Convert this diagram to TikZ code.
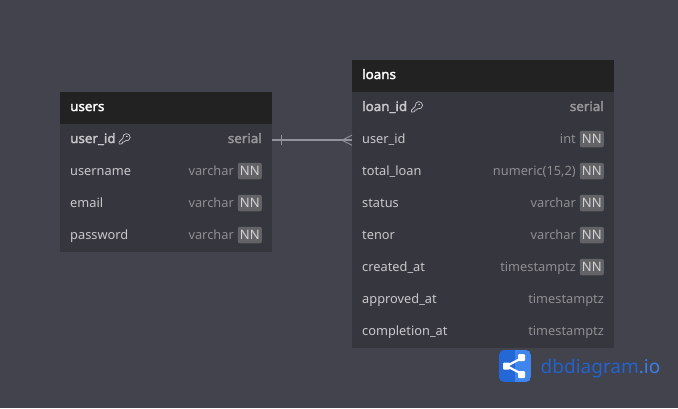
\documentclass[tikz,border=0pt]{standalone}
\usepackage{fontspec}
\setmainfont{Noto Sans}
\newfontfamily\heavyfont{Noto Sans}[FakeBold=2.2,FakeStretch=1.03]
\usetikzlibrary{positioning,calc}
\definecolor{bgc}{HTML}{43434D}
\definecolor{headc}{HTML}{222222}
\definecolor{rowc}{HTML}{36363E}
\definecolor{namec}{HTML}{C8C8CC}
\definecolor{typec}{HTML}{8E8E92}
\definecolor{boldc}{HTML}{C8C8CC}
\definecolor{boldtype}{HTML}{98989C}
\definecolor{nnfill}{HTML}{636367}
\definecolor{nntext}{HTML}{D2D2D4}
\definecolor{linec}{HTML}{92929C}
\definecolor{logod}{HTML}{2467D6}
\definecolor{logol}{HTML}{3F85EE}
\definecolor{txtd}{HTML}{2263CC}
\definecolor{txtl}{HTML}{3A80E4}
\tikzset{
  x=1pt,y=-1pt,
  headbox/.style={fill=headc,inner sep=0pt,anchor=north west,minimum height=32pt},
  rowbox/.style={fill=rowc,inner sep=0pt,anchor=north west,minimum height=32pt},
  fname/.style={anchor=base west,inner sep=0pt,text=namec,font=\fontsize{12.8}{15}\selectfont},
  fnamepk/.style={anchor=base west,inner sep=0pt,text=boldc,font=\fontsize{13}{15}\selectfont\heavyfont},
  ftitle/.style={anchor=base west,inner sep=0pt,text=white,font=\fontsize{13}{15}\selectfont\heavyfont},
  ftype/.style={anchor=base east,inner sep=0pt,text=typec,font=\fontsize{12.8}{15}\selectfont},
  ftypepk/.style={anchor=base east,inner sep=0pt,text=boldtype,font=\fontsize{13}{15}\selectfont\heavyfont},
  nnbox/.style={fill=nnfill,rounded corners=2pt,text=nntext,inner sep=0pt,minimum width=24pt,minimum height=16.5pt,anchor=east,font=\fontsize{13}{15}\selectfont},
  rel/.style={draw=linec,line width=1.5pt},
  relthin/.style={draw=linec,line width=0.9pt},
  keyicon/.style={draw=boldc,line width=0.7pt,line cap=round,line join=round},
}
\newcommand{\keyglyph}[1]{%
  \begin{scope}[shift={(#1)}]
    \draw[keyicon] (-5.5,5) -- (-5.5,3) -- (-1.8,-0.7) .. controls (-2.2,-3.6) and (0,-5.4) .. (1.8,-5.4) .. controls (4,-5.4) and (5.6,-3.6) .. (5.6,-1.6) .. controls (5.6,0.8) and (3,2.4) .. (0.6,1.8) -- (-0.6,3) -- (-2,3) -- (-2.4,4.4) -- (-3.6,5) -- cycle;
    \draw[keyicon] (1.6,-2.6) -- (2.8,-2.6);
  \end{scope}}
\newcommand{\tablerow}[7]{% prefix, column name, left, top, width, type, nn(1/0)
  \node[rowbox,minimum width=#5pt] (#1-box) at (#3,#4) {};
  \node[fname] (#1-name) at ($(#3,#4)+(10,19.6)$) {#2};
  \ifnum#7=1
    \node[nnbox] (#1-nn) at ($(#3,#4)+(#5,0)+(-10,15)$) {NN};
    \node[ftype] (#1-type) at ($(#3,#4)+(#5,0)+(-38,19.6)$) {#6};
  \else
    \node[ftype] (#1-type) at ($(#3,#4)+(#5,0)+(-10,19.6)$) {#6};
  \fi}
\begin{document}
\begin{tikzpicture}
\useasboundingbox (0,0) rectangle (678,408);
\fill[bgc] (0,0) rectangle (678,408);

% users
\node[headbox,minimum width=212pt] (usershead) at (60,92) {};
\node[ftitle] (userstitle) at (70,111) {users};
\node[rowbox,minimum width=212pt] (uid-box) at (60,124) {};
\node[fnamepk] (uid-name) at (70,143) {user\_id};
\keyglyph{124.6,139}
\node[ftypepk] (uid-type) at (262,143) {serial};
\tablerow{uname}{username}{60}{156}{212}{varchar}{1}
\tablerow{uemail}{email}{60}{188}{212}{varchar}{1}
\tablerow{upass}{password}{60}{220}{212}{varchar}{1}

% loans
\node[headbox,minimum width=262pt] (loanshead) at (352,60) {};
\node[ftitle] (loanstitle) at (362,79) {loans};
\node[rowbox,minimum width=262pt] (lid-box) at (352,92) {};
\node[fnamepk] (lid-name) at (362,111) {loan\_id};
\keyglyph{417,107}
\node[ftypepk] (lid-type) at (604,111) {serial};
\tablerow{luser}{user\_id}{352}{124}{262}{int}{1}
\tablerow{ltotal}{total\_loan}{352}{156}{262}{numeric(15,2)}{1}
\tablerow{lstatus}{status}{352}{188}{262}{varchar}{1}
\tablerow{ltenor}{tenor}{352}{220}{262}{varchar}{1}
\tablerow{lcreated}{created\_at}{352}{252}{262}{timestamptz}{1}
\tablerow{lapproved}{approved\_at}{352}{284}{262}{timestamptz}{0}
\tablerow{lcompletion}{completion\_at}{352}{316}{262}{timestamptz}{0}

% relationship
\draw[rel] (uid-box.east) -- (luser-box.west);
\draw[relthin] ($(uid-box.east)+(9,-5)$) -- ($(uid-box.east)+(9,5)$);
\draw[relthin] ($(luser-box.west)+(0,-5)$) -- ($(luser-box.west)+(-10,0)$) -- ($(luser-box.west)+(0,5)$);

% logo
\begin{scope}
  \clip[rounded corners=5pt] (499,350) rectangle (531,382);
  \fill[logod] (499,350) rectangle (515,382);
  \fill[logol] (515,350) rectangle (531,382);
  \draw[white,line width=2.2pt] (522,358) -- (506.5,366) -- (522,374);
  \fill[white,rounded corners=1pt] (518,354) rectangle (525,361);
  \fill[white,rounded corners=1pt] (518,371) rectangle (525,378);
  \fill[white,rounded corners=1pt] (503,362.5) rectangle (510,369.5);
\end{scope}
\node[anchor=base west,inner sep=0pt,font=\fontsize{19}{21}\selectfont] (logotext) at (540.5,373) {\textcolor{txtd}{dbdiagram}\textcolor{txtl}{.io}};
\end{tikzpicture}
\end{document}
